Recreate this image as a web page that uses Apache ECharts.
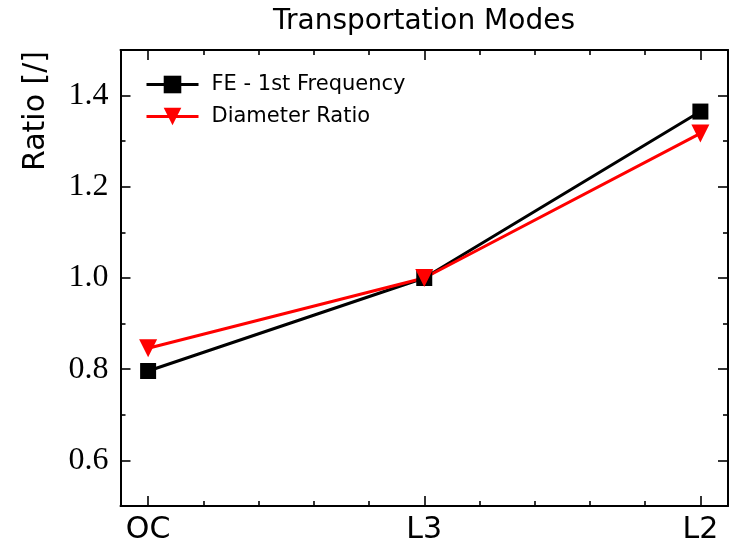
<!DOCTYPE html>
<html>
<head>
<meta charset="utf-8">
<script src="https://cdn.jsdelivr.net/npm/echarts@6/dist/echarts.min.js"></script>
<style>html,body{margin:0;padding:0;background:#fff}#c{width:735px;height:545px}</style>
</head>
<body>
<div id="c"></div>
<script>
// ---- data ----
const categories = ['OC', 'L3', 'L2'];
const feFrequency = [0.796, 1.0, 1.365];
const diameterRatio = [0.846, 1.0, 1.317];
const seriesNames = ['FE - 1st Frequency', 'Diameter Ratio'];
const yMajorTicks = [0.6, 0.8, 1.0, 1.2, 1.4];
const yMinorTicks = [0.5, 0.7, 0.9, 1.1, 1.3, 1.5];
const xMajorTicks = [0, 1, 2];
const xMinorTicks = [0.2, 0.4, 0.6, 0.8, 1.2, 1.4, 1.6, 1.8];
const titleText = 'Transportation Modes';
const yLabel = 'Ratio [/]';

const chart = echarts.init(document.getElementById('c'), null, {renderer: 'canvas'});
const SANS = 'DejaVu Sans';
const SERIF = 'Liberation Serif';
const lineStyleAxis = {color: '#000', width: 2};
const tickStyle = {color: '#000', width: 1.6};

function xAx(pos, major, showLine, showLabel) {
  return {
    type: 'value', position: pos, min: -0.1, max: 2.1, gridIndex: 0,
    axisLine: {show: showLine, onZero: false, lineStyle: lineStyleAxis},
    axisTick: {show: true, inside: true, length: major ? 10 : 5, lineStyle: tickStyle,
      customValues: major ? xMajorTicks : xMinorTicks},
    axisLabel: {show: showLabel, customValues: xMajorTicks, margin: 9,
      formatter: v => categories[Math.round(v)] || '',
      color: '#000', fontFamily: SANS, fontSize: 30},
    splitLine: {show: false}
  };
}
function yAx(pos, major, showLine, showLabel) {
  return {
    type: 'value', position: pos, min: 0.5, max: 1.5, gridIndex: 0,
    axisLine: {show: showLine, onZero: false, lineStyle: lineStyleAxis},
    axisTick: {show: true, inside: true, length: major ? 10 : 5, lineStyle: tickStyle,
      customValues: major ? yMajorTicks : yMinorTicks},
    axisLabel: {show: showLabel, customValues: yMajorTicks, margin: 12,
      formatter: v => v.toFixed(1),
      color: '#000', fontFamily: SERIF, fontSize: 32},
    splitLine: {show: false}
  };
}

const option = {
  backgroundColor: '#fff',
  animation: false,
  grid: {left: 120.5, right: 7, top: 50, bottom: 37, containLabel: false},
  xAxis: [
    xAx('bottom', true, true, true),
    xAx('bottom', false, false, false),
    xAx('top', true, true, false),
    xAx('top', false, false, false)
  ],
  yAxis: [
    yAx('left', true, true, true),
    yAx('left', false, false, false),
    yAx('right', true, true, false),
    yAx('right', false, false, false)
  ],
  legend: {
    orient: 'vertical', left: 140, top: 69, itemWidth: 52, itemHeight: 22, itemGap: 11,
    lineStyle: {width: 3},
    textStyle: {color: '#000', fontFamily: SANS, fontSize: 21, padding: [0, 0, 0, 8]},
    data: seriesNames
  },
  graphic: [
    {type: 'text', x: 424, y: 22, style: {text: titleText, fill: '#000', font: '28px "DejaVu Sans"', textAlign: 'center', textVerticalAlign: 'middle'}},
    {type: 'text', x: 36, y: 111, rotation: Math.PI / 2, style: {text: yLabel, fill: '#000', font: '30px "DejaVu Sans"', textAlign: 'center', textVerticalAlign: 'middle'}}
  ],
  series: [
    {
      name: seriesNames[0], type: 'line', xAxisIndex: 0, yAxisIndex: 0,
      data: feFrequency.map((v, i) => [i, v]),
      symbol: 'rect', symbolSize: 16,
      lineStyle: {color: '#000', width: 3}, itemStyle: {color: '#000'}, color: '#000'
    },
    {
      name: seriesNames[1], type: 'line', xAxisIndex: 0, yAxisIndex: 0,
      data: diameterRatio.map((v, i) => [i, v]),
      symbol: 'triangle', symbolRotate: 180, symbolSize: [18, 18],
      lineStyle: {color: '#ff0000', width: 3}, itemStyle: {color: '#ff0000'}, color: '#ff0000'
    }
  ]
};
chart.setOption(option);
</script>
</body>
</html>
